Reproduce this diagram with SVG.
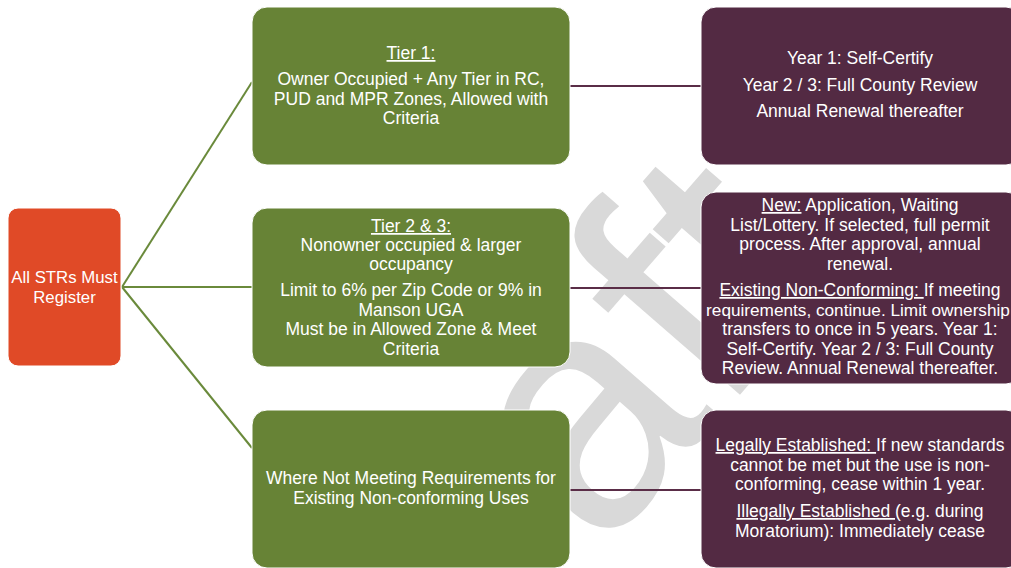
<svg xmlns="http://www.w3.org/2000/svg" width="1011" height="568" viewBox="0 0 1011 568">
<style>
.t{font-family:"Liberation Sans",Arial,sans-serif;font-size:17.5px;fill:#ffffff;text-anchor:middle}
.u{text-decoration:underline}
.g{fill:#678336;stroke:#ffffff;stroke-width:1}
.p{fill:#532a43;stroke:#ffffff;stroke-width:1}
.lg{stroke:#6a8a3b;stroke-width:2;fill:none}
.lp{stroke:#5a2d47;stroke-width:2;fill:none}
.wm{font-family:"Liberation Sans",Arial,sans-serif;font-size:330px;fill:#d9d9d9}
</style>
<rect width="1011" height="568" fill="#ffffff"/>
<text class="wm" transform="translate(372,818) rotate(-49)">Draft</text>
<g id="connectors">
<line class="lg" x1="122" y1="287" x2="252" y2="82"/>
<line class="lg" x1="122" y1="287" x2="252" y2="287"/>
<line class="lg" x1="122" y1="287" x2="252" y2="448"/>
<line class="lp" x1="570" y1="86" x2="701" y2="86"/>
<line class="lp" x1="570" y1="288" x2="701" y2="288"/>
<line class="lp" x1="570" y1="490" x2="701" y2="490"/>
</g>
<g id="root">
<rect x="8" y="208" width="113" height="158" rx="10" fill="#e04a27" stroke="#ffffff" stroke-width="1"/>
<text class="t" style="font-size:16.8px"><tspan x="64.5" y="283">All STRs Must</tspan><tspan x="64.5" y="303">Register</tspan></text>
</g>
<g id="tier1">
<rect class="g" x="252" y="7" width="318" height="158" rx="15"/>
<text class="t"><tspan x="411" y="59" class="u">Tier 1:</tspan><tspan x="411" y="85">Owner Occupied + Any Tier in RC,</tspan><tspan x="411" y="105">PUD and MPR Zones, Allowed with</tspan><tspan x="411" y="124">Criteria</tspan></text>
</g>
<g id="tier23">
<rect class="g" x="252" y="208" width="318" height="159" rx="15"/>
<text class="t"><tspan x="411" y="232" class="u">Tier 2 &amp; 3:</tspan><tspan x="411" y="251">Nonowner occupied &amp; larger</tspan><tspan x="411" y="270">occupancy</tspan><tspan x="411" y="296">Limit to 6% per Zip Code or 9% in</tspan><tspan x="411" y="316">Manson UGA</tspan><tspan x="411" y="335">Must be in Allowed Zone &amp; Meet</tspan><tspan x="411" y="355">Criteria</tspan></text>
</g>
<g id="nonconf">
<rect class="g" x="252" y="410" width="318" height="158" rx="15"/>
<text class="t"><tspan x="411" y="484">Where Not Meeting Requirements for</tspan><tspan x="411" y="504">Existing Non-conforming Uses</tspan></text>
</g>
<g id="review1">
<rect class="p" x="701" y="7" width="320" height="158" rx="15"/>
<text class="t"><tspan x="860" y="64">Year 1: Self-Certify</tspan><tspan x="860" y="91">Year 2 / 3: Full County Review</tspan><tspan x="860" y="117">Annual Renewal thereafter</tspan></text>
</g>
<g id="review23">
<rect class="p" x="701" y="192" width="320" height="192" rx="15"/>
<text class="t"><tspan x="860" y="211"><tspan class="u">New:</tspan> Application, Waiting</tspan><tspan x="860" y="231">List/Lottery. If selected, full permit</tspan><tspan x="860" y="250">process. After approval, annual</tspan><tspan x="860" y="270">renewal.</tspan><tspan x="860" y="296"><tspan class="u">Existing Non-Conforming: </tspan>If meeting</tspan><tspan x="858" y="316" style="font-size:17.2px">requirements, continue. Limit ownership</tspan><tspan x="860" y="335">transfers to once in 5 years. Year 1:</tspan><tspan x="860" y="355">Self-Certify. Year 2 / 3: Full County</tspan><tspan x="860" y="374">Review. Annual Renewal thereafter.</tspan></text>
</g>
<g id="review3">
<rect class="p" x="701" y="410" width="320" height="158" rx="15"/>
<text class="t"><tspan x="860" y="451"><tspan class="u">Legally Established: </tspan>If new standards</tspan><tspan x="860" y="471">cannot be met but the use is non-</tspan><tspan x="860" y="490">conforming, cease within 1 year.</tspan><tspan x="860" y="517"><tspan class="u">Illegally Established </tspan>(e.g. during</tspan><tspan x="860" y="537">Moratorium): Immediately cease</tspan></text>
</g>
</svg>
